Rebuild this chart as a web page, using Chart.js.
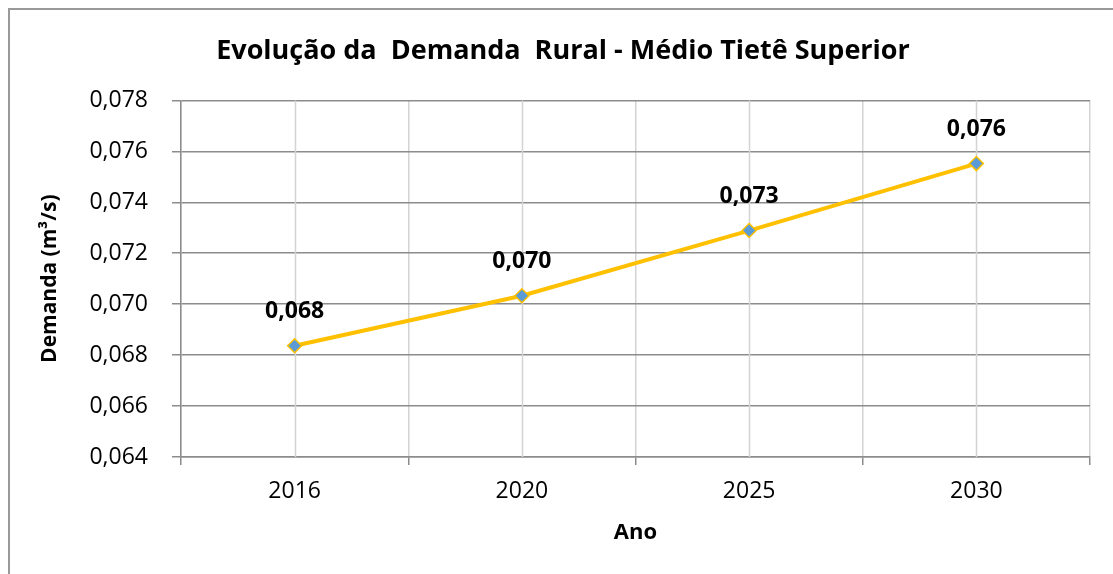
<!DOCTYPE html>
<html>
<head>
<meta charset="utf-8">
<script src="https://cdn.jsdelivr.net/npm/chart.js@4/dist/chart.umd.min.js"></script>
<style>
  html, body { margin: 0; padding: 0; background: #fff; }
  #wrap { position: relative; width: 1113px; height: 574px; }
  #frame { position: absolute; left: 8px; top: 8px; right: -10px; bottom: -10px;
           border-left: 2px solid #999; border-top: 2px solid #999; }
  canvas { position: absolute; left: 0; top: 0; }
</style>
</head>
<body>
<div id="wrap">
  <div id="frame"></div>
  <canvas id="chart" width="1113" height="574"></canvas>
</div>
<script>
const years = ["2016", "2020", "2025", "2030"];
const demanda = [0.06837, 0.07033, 0.07289, 0.07552];
const yTicks = [0.064, 0.066, 0.068, 0.070, 0.072, 0.074, 0.076, 0.078];

const FONT = "'Open Sans', 'DejaVu Sans', sans-serif";
const fmt = (v, d)=> v.toFixed(d).replace(".", ",");

// light vertical lines through each category, Excel style
const centerLines = {
  id: "centerLines",
  beforeDatasetsDraw(chart){
    const {ctx, chartArea, scales} = chart;
    ctx.save();
    ctx.strokeStyle = "#d3d3d3";
    ctx.lineWidth = 1.5;
    years.forEach((y, i)=>{
      const x = Math.round(scales.x.getPixelForValue(i)) + 0.5;
      ctx.beginPath();
      ctx.moveTo(x, chartArea.top);
      ctx.lineTo(x, chartArea.bottom);
      ctx.stroke();
    });
    ctx.restore();
  }
};

const valueLabels = {
  id: "valueLabels",
  afterDatasetsDraw(chart){
    const {ctx} = chart;
    const meta = chart.getDatasetMeta(0);
    ctx.save();
    ctx.font = "bold 23px " + FONT;
    ctx.fillStyle = "#000";
    ctx.textAlign = "center";
    ctx.textBaseline = "middle";
    meta.data.forEach((pt, i)=>{
      ctx.fillText(fmt(demanda[i], 3), pt.x, pt.y - 34);
    });
    ctx.restore();
  }
};

new Chart(document.getElementById("chart").getContext("2d"), {
  type: "line",
  data: {
    labels: years,
    datasets: [{
      data: demanda,
      borderColor: "#FFC000",
      borderWidth: 4,
      pointStyle: "rectRot",
      pointRadius: 7,
      pointBackgroundColor: "#5B9BD5",
      pointBorderColor: "#FFC000",
      pointBorderWidth: 1.5,
      tension: 0
    }]
  },
  options: {
    responsive: false,
    animation: false,
    layout: { padding: { left: 36, right: 23, top: 0, bottom: 0 } },
    plugins: {
      legend: { display: false },
      tooltip: { enabled: false },
      title: {
        display: true,
        text: "Evolução da  Demanda  Rural - Médio Tietê Superior",
        color: "#000",
        font: { family: FONT, size: 27, weight: "bold" },
        padding: { top: 35, bottom: 33 }
      }
    },
    scales: {
      x: {
        offset: true,
        afterFit(scale){ scale.height = 117; },
        grid: { offset: true, color: "#d3d3d3", lineWidth: 1.5, tickColor: "#8c8c8c", tickLength: 8 },
        border: { color: "#8c8c8c", width: 1.5 },
        ticks: { color: "#000", font: { family: FONT, size: 23 }, padding: 13 },
        title: {
          display: true, text: "Ano", color: "#000",
          font: { family: FONT, size: 22, weight: "bold" },
          padding: { top: 0, bottom: 28 }
        }
      },
      y: {
        min: yTicks[0],
        max: yTicks[yTicks.length - 1],
        afterFit(scale){ scale.width = 145; },
        afterBuildTicks(scale){ scale.ticks = yTicks.map(v=>({value: v})); },
        grid: { color: "#8c8c8c", lineWidth: 1.5, tickColor: "#8c8c8c", tickLength: 9 },
        border: { color: "#8c8c8c", width: 1.5 },
        ticks: {
          color: "#000",
          font: { family: FONT, size: 23 },
          padding: 24,
          callback: (v)=> fmt(v, 3)
        },
        title: {
          display: true, text: "Demanda (m³/s)", color: "#000",
          font: { family: FONT, size: 21, weight: "bold" },
          padding: { top: 1, bottom: 0 }
        }
      }
    }
  },
  plugins: [centerLines, valueLabels]
});
</script>
</body>
</html>
